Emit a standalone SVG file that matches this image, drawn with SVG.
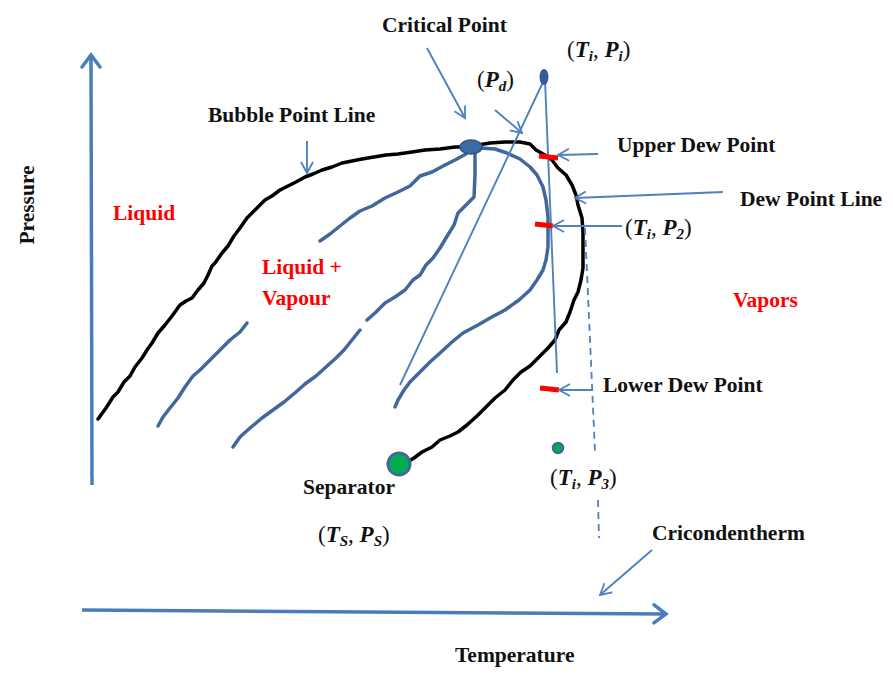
<svg xmlns="http://www.w3.org/2000/svg" width="893" height="681" viewBox="0 0 893 681">
<defs>
<marker id="open" markerUnits="userSpaceOnUse" markerWidth="16" markerHeight="16" refX="12" refY="7" orient="auto" viewBox="0 0 16 14">
<path d="M1,1 L12,7 L1,13" fill="none" stroke="#4F81BD" stroke-width="1.8"/>
</marker>
<marker id="axis" markerUnits="userSpaceOnUse" markerWidth="20" markerHeight="22" refX="15" refY="11" orient="auto" viewBox="0 0 20 22">
<path d="M3,2 L15,11 L3,20" fill="none" stroke="#4A7EBB" stroke-width="3.5" stroke-linecap="round"/>
</marker>
</defs>
<style>
.t{font-family:"Liberation Serif","Times New Roman",serif;font-weight:bold;font-size:21.5px;fill:#111}
.r{font-family:"Liberation Serif","Times New Roman",serif;font-weight:bold;font-size:21.5px;fill:#FF0000}
.m{font-family:"Liberation Serif","Times New Roman",serif;font-size:23px;fill:#111}
.v{font-weight:bold;font-style:italic}
.s{font-weight:bold;font-style:italic;font-size:15px}
.ax{fill:none;stroke:#4A7EBB;stroke-width:3.5}
.thin{fill:none;stroke:#4F81BD;stroke-width:1.9}
.blk{fill:none;stroke:#000;stroke-width:3.5;stroke-linejoin:round;stroke-linecap:round}
.wav{fill:none;stroke:#41689B;stroke-width:3.5;stroke-linejoin:round;stroke-linecap:round}
.red{stroke:#FF0000;stroke-width:5}
.dash{fill:none;stroke:#4F81BD;stroke-width:1.8;stroke-dasharray:7 5}
</style>
<rect width="893" height="681" fill="#fff"/>

<g id="axes">
<path class="ax" d="M92,485 L91,55" marker-end="url(#axis)"/>
<path class="ax" d="M82,610 L666,614" marker-end="url(#axis)"/>
</g>

<g id="envelope">
<path class="blk" d="M98,419 L106,408 L113,397 L118,392 L124,382 L130,376 L135,367 L142,358 L147,350 L152,343 L158,333 L165,325 L172,316 L180,305 L186,301 L192,298 L198,290 L204,283 L208,275 L212,266 L215,263 L222,253 L228,246 L234,236 L240,228 L247,218 L253,212 L258,207 L265,200 L272,196 L280,190 L288,186 L296,182 L305,177 L313,174 L322,170 L332,167 L342,163 L352,161 L362,159 L374,157 L386,155 L398,154 L412,152 L425,150 L440,149 L455,147 L463,147"/>
<path class="blk" d="M478,145 L490,143 L505,142 L520,142 L530,144 L536,150 L545,155 L552,160 L558,168 L566,175 L572,185 L576,195 L578,205 L582,218 L583,232 L583,250 L583,268 L581,280 L578,292 L574,300 L570,312 L566,322 L559,330 L555,340 L548,348 L538,358 L530,366 L521,372 L513,380 L505,390 L495,398 L488,405 L478,415 L467,425 L458,432 L450,436 L440,440 L432,447 L422,452 L414,458 L409,461"/>
</g>

<g id="quality-lines">
<path class="wav" d="M466,154 L455,160 L445,165 L432,172 L420,176 L410,186 L398,192 L385,198 L372,206 L360,211 L350,218 L340,226 L330,234 L320,241"/>
<path class="wav" d="M247,323 L240,332 L230,340 L222,348 L212,358 L200,370 L193,376 L185,387 L178,398 L170,408 L163,417 L158,426"/>
<path class="wav" d="M475,153 L475,175 L474,197 L464,207 L458,213 L454,225 L446,238 L440,248 L433,258 L426,265 L420,275 L413,280 L405,290 L395,297 L385,303 L375,313 L367,320"/>
<path class="wav" d="M360,330 L352,340 L344,350 L336,358 L326,367 L316,376 L305,384 L296,392 L284,402 L273,410 L262,418 L250,428 L240,437 L233,447"/>
<path class="wav" d="M480,148 L495,149 L507,153 L520,159 L530,167 L537,175 L543,187 L546,200 L548,217 L548,232 L548,247 L546,260 L543,270 L537,280 L530,290 L519,300 L505,310 L490,318 L478,325 L463,333 L452,342 L440,353 L430,362 L420,372 L410,382 L404,390 L398,400 L395,407"/>
</g>

<g id="critical-point">
<ellipse cx="471" cy="147" rx="11" ry="7" fill="#3D6BA2" stroke="#2F5587" stroke-width="1.5"/>
</g>

<g id="initial-point">
<path class="thin" d="M544,80 L400,385"/>
<path class="thin" d="M545,80 L557,373"/>
<ellipse cx="544" cy="77" rx="4.5" ry="8" fill="#2E5E9E"/>
</g>

<g id="cricondentherm-line">
<path class="dash" d="M585,228 L595,452"/>
<path class="dash" d="M598,500 L599,538"/>
</g>

<g id="dew-marks">
<line class="red" x1="539" y1="156" x2="558" y2="158"/>
<line class="red" x1="535" y1="224" x2="553" y2="226"/>
<line class="red" x1="540" y1="388" x2="559" y2="390"/>
</g>

<g id="separator">
<circle cx="399" cy="464" r="11" fill="#00B050" stroke="#41689B" stroke-width="3"/>
</g>
<g id="point-p3">
<circle cx="558" cy="448" r="5" fill="#00B050" stroke="#41689B" stroke-width="2.5"/>
</g>

<g id="connectors">
<path class="thin" d="M307,141 L307,173" marker-end="url(#open)"/>
<path class="thin" d="M427,48 L465,118" marker-end="url(#open)"/>
<path class="thin" d="M495,110 L522,133" marker-end="url(#open)"/>
<path class="thin" d="M598,154 L558,155" marker-end="url(#open)"/>
<path class="thin" d="M723,192 L575,198" marker-end="url(#open)"/>
<path class="thin" d="M622,226 L553,226" marker-end="url(#open)"/>
<path class="thin" d="M593,390 L559,390" marker-end="url(#open)"/>
<path class="thin" d="M652,550 L600,595" marker-end="url(#open)"/>
</g>

<g id="labels">
<text class="t" x="382" y="32">Critical Point</text>
<text class="t" x="208" y="122">Bubble Point Line</text>
<text class="t" x="617" y="152">Upper Dew Point</text>
<text class="t" x="740" y="206">Dew Point Line</text>
<text class="t" x="603" y="392">Lower Dew Point</text>
<text class="t" x="652" y="540">Cricondentherm</text>
<text class="t" x="303" y="494">Separator</text>
<text class="t" x="455" y="662">Temperature</text>
<text class="t" transform="translate(34,205) rotate(-90)" text-anchor="middle">Pressure</text>
<text class="r" x="113" y="220">Liquid</text>
<text class="r" x="262" y="274">Liquid +</text>
<text class="r" x="262" y="305">Vapour</text>
<text class="r" x="733" y="307">Vapors</text>
<text class="m" x="567" y="57">(<tspan class="v">T</tspan><tspan class="s" dy="4">i</tspan><tspan dy="-4">, </tspan><tspan class="v">P</tspan><tspan class="s" dy="4">i</tspan><tspan dy="-4">)</tspan></text>
<text class="m" x="477" y="87">(<tspan class="v">P</tspan><tspan class="s" dy="4">d</tspan><tspan dy="-4">)</tspan></text>
<text class="m" x="625" y="235">(<tspan class="v">T</tspan><tspan class="s" dy="4">i</tspan><tspan dy="-4">, </tspan><tspan class="v">P</tspan><tspan class="s" dy="4">2</tspan><tspan dy="-4">)</tspan></text>
<text class="m" x="550" y="485">(<tspan class="v">T</tspan><tspan class="s" dy="4">i</tspan><tspan dy="-4">, </tspan><tspan class="v">P</tspan><tspan class="s" dy="4">3</tspan><tspan dy="-4">)</tspan></text>
<text class="m" x="318" y="542">(<tspan class="v">T</tspan><tspan class="s" dy="4">S</tspan><tspan dy="-4">, </tspan><tspan class="v">P</tspan><tspan class="s" dy="4">S</tspan><tspan dy="-4">)</tspan></text>
</g>
</svg>
